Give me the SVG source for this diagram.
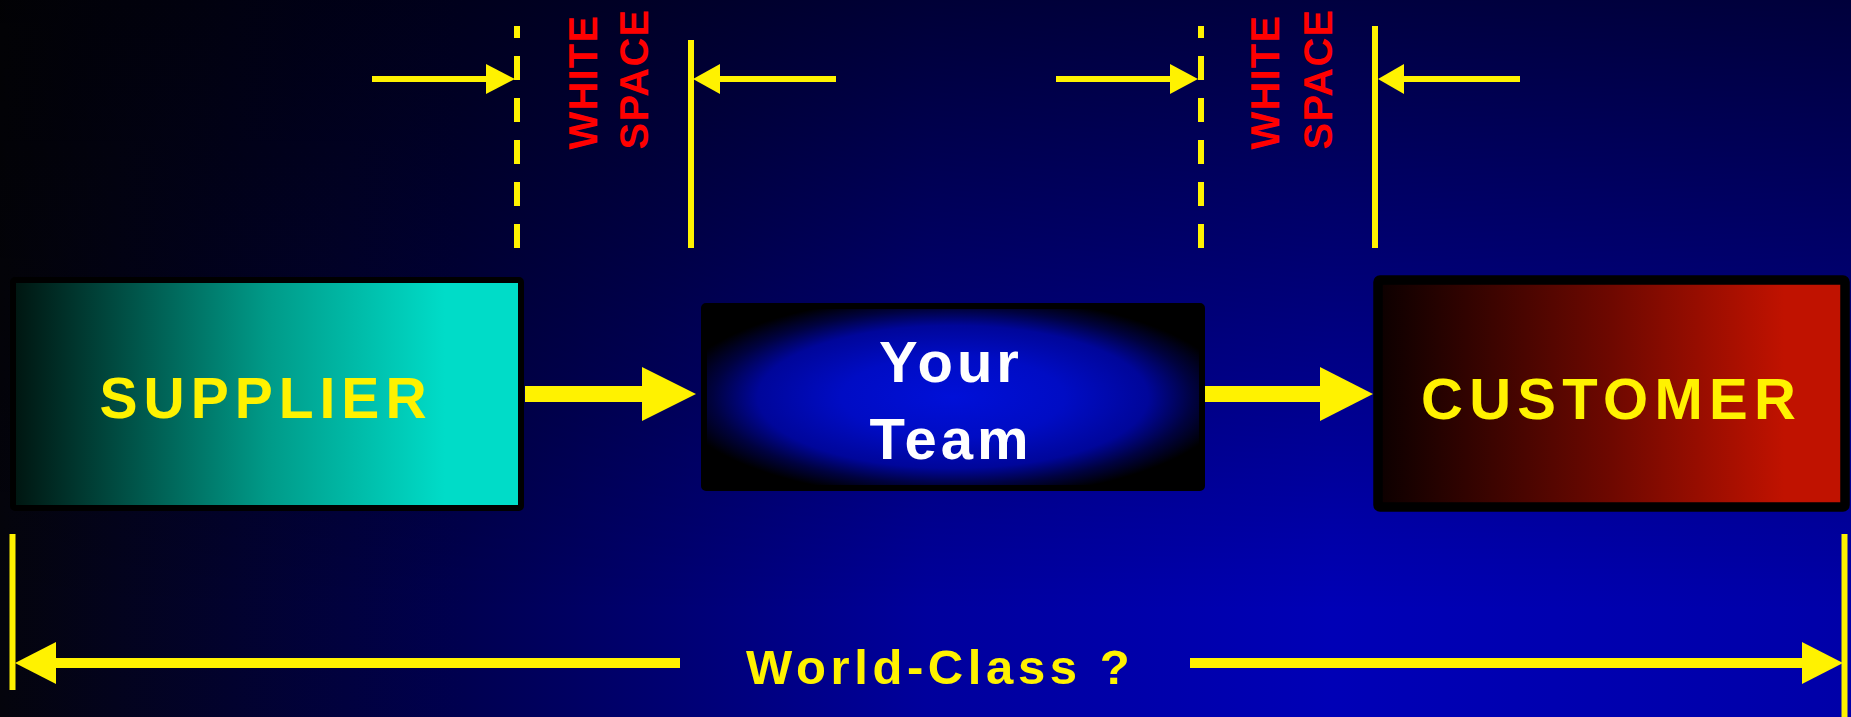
<svg xmlns="http://www.w3.org/2000/svg" width="1851" height="717" viewBox="0 0 1851 717">
  <defs>
    <linearGradient id="bgH" x1="0" y1="0" x2="1851" y2="0" gradientUnits="userSpaceOnUse">
      <stop offset="0" stop-color="#04040c"/>
      <stop offset="0.25" stop-color="#000050"/>
      <stop offset="0.5" stop-color="#00009c"/>
      <stop offset="0.72" stop-color="#0000b6"/>
      <stop offset="1" stop-color="#0000a8"/>
    </linearGradient>
    <linearGradient id="bgV" x1="0" y1="0" x2="0" y2="717" gradientUnits="userSpaceOnUse">
      <stop offset="0" stop-color="#000000" stop-opacity="0.65"/>
      <stop offset="0.85" stop-color="#000000" stop-opacity="0"/>
    </linearGradient>
    <linearGradient id="gSup" x1="0" y1="0" x2="1" y2="0">
      <stop offset="0" stop-color="#001510"/>
      <stop offset="0.5" stop-color="#009a88"/>
      <stop offset="0.85" stop-color="#00dcc8"/>
      <stop offset="1" stop-color="#00dcc8"/>
    </linearGradient>
    <linearGradient id="gCus" x1="0" y1="0" x2="1" y2="0">
      <stop offset="0" stop-color="#0c0000"/>
      <stop offset="0.5" stop-color="#6e0800"/>
      <stop offset="0.87" stop-color="#c01200"/>
      <stop offset="1" stop-color="#c01200"/>
    </linearGradient>
    <radialGradient id="gTeam" cx="0.5" cy="0.5" r="0.56">
      <stop offset="0" stop-color="#0010d8"/>
      <stop offset="0.4" stop-color="#000cc4"/>
      <stop offset="0.7" stop-color="#00069a"/>
      <stop offset="0.86" stop-color="#000240"/>
      <stop offset="1" stop-color="#000000"/>
    </radialGradient>
  </defs>
  <style>
    .box { stroke: #000000; }
    .lbl { font-family: "Liberation Sans", Arial, sans-serif; font-weight: bold; }
    .yel { fill: #fff200; }
    .red { fill: #ff0000; }
    .wht { fill: #ffffff; }
    .ln { stroke: #fff200; stroke-width: 6; fill: none; }
    .dash { stroke-dasharray: 24 18; }
    .head { fill: #fff200; }
  </style>

  <rect x="0" y="0" width="1851" height="717" fill="url(#bgH)"/>
  <rect x="0" y="0" width="1851" height="717" fill="url(#bgV)"/>

  <g id="supplier">
    <rect class="box" x="13" y="280" width="508" height="228" rx="2" fill="url(#gSup)" stroke-width="6"/>
    <text class="lbl yel" x="99.5" y="418" font-size="57" letter-spacing="6">SUPPLIER</text>
  </g>

  <g id="your-team">
    <rect class="box" x="704" y="306" width="498" height="182" rx="2" fill="url(#gTeam)" stroke-width="6"/>
    <text class="lbl wht" x="951" y="382" font-size="58" letter-spacing="4" text-anchor="middle">Your</text>
    <text class="lbl wht" x="951" y="459" font-size="58" letter-spacing="4" text-anchor="middle">Team</text>
  </g>

  <g id="customer">
    <rect class="box" x="1378" y="280" width="467" height="227" rx="2" fill="url(#gCus)" stroke-width="9.5"/>
    <text class="lbl yel" x="1421" y="419" font-size="58" letter-spacing="6.3">CUSTOMER</text>
  </g>

  <g id="white-space-labels">
    <text class="lbl red" font-size="40" letter-spacing="1.2" transform="translate(597,149.5) rotate(-90)">WHITE</text>
    <text class="lbl red" font-size="40" letter-spacing="1.2" transform="translate(648,149.5) rotate(-90)">SPACE</text>
    <text class="lbl red" font-size="40" letter-spacing="1.2" transform="translate(1279,149.5) rotate(-90)">WHITE</text>
    <text class="lbl red" font-size="40" letter-spacing="1.2" transform="translate(1332,149.5) rotate(-90)">SPACE</text>
  </g>

  <g id="world-class-label">
    <text class="lbl yel" x="746" y="684" font-size="49" letter-spacing="4.6">World-Class ?</text>
  </g>

  <g id="connectors">
    <line class="ln dash" x1="517" y1="248" x2="517" y2="26"/>
    <line class="ln" x1="691" y1="40" x2="691" y2="248"/>
    <line class="ln dash" x1="1201" y1="248" x2="1201" y2="26"/>
    <line class="ln" x1="1375" y1="26" x2="1375" y2="248"/>

    <line class="ln" x1="372" y1="79" x2="488" y2="79"/>
    <polygon class="head" points="486,64 515,79 486,94"/>
    <line class="ln" x1="718" y1="79" x2="836" y2="79"/>
    <polygon class="head" points="720,64 693,79 720,94"/>
    <line class="ln" x1="1056" y1="79" x2="1172" y2="79"/>
    <polygon class="head" points="1170,64 1198,79 1170,94"/>
    <line class="ln" x1="1402" y1="79" x2="1520" y2="79"/>
    <polygon class="head" points="1404,64 1378,79 1404,94"/>

    <rect class="head" x="525" y="386" width="119" height="16"/>
    <polygon class="head" points="642,367 696,394 642,421"/>
    <rect class="head" x="1205" y="386" width="117" height="16"/>
    <polygon class="head" points="1320,367 1373,394 1320,421"/>

    <line class="ln" x1="12.5" y1="534" x2="12.5" y2="690" stroke-width="5"/>
    <line class="ln" x1="1844.5" y1="534" x2="1844.5" y2="717" stroke-width="5"/>
    <rect class="head" x="54" y="658" width="626" height="10"/>
    <polygon class="head" points="56,642 15,663 56,684"/>
    <rect class="head" x="1190" y="658" width="614" height="10"/>
    <polygon class="head" points="1802,642 1843,663 1802,684"/>
  </g>
</svg>
